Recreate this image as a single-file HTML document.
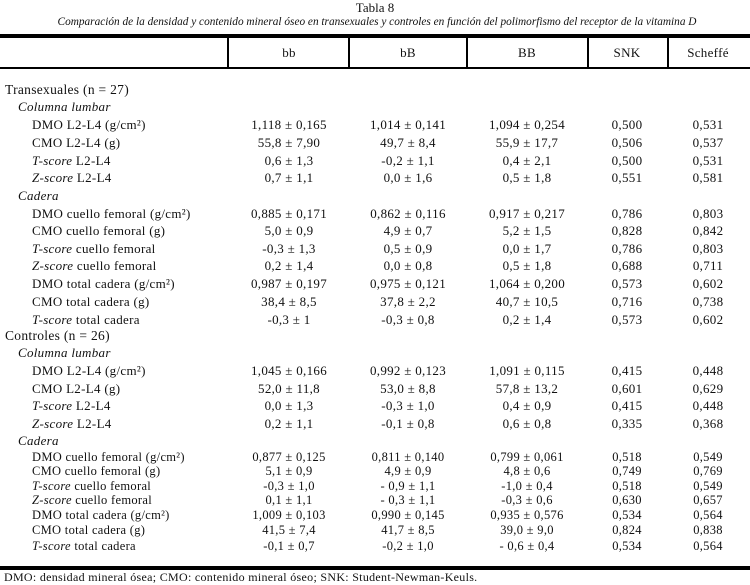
<!DOCTYPE html>
<html><head><meta charset="utf-8"><style>
body{margin:0;width:750px;height:584px;background:#fff;position:relative;font-family:"Liberation Serif",serif;color:#111;overflow:hidden}
.t{position:absolute;white-space:nowrap;font-size:13px;line-height:16px;letter-spacing:0.3px}
.c{transform:translateX(-50%)}
.ln{position:absolute;background:#000}
</style></head><body>
<div class="t c" style="left:375px;top:0px;font-size:13px;letter-spacing:0">Tabla 8</div>
<div class="t c" style="left:377px;top:14px;font-style:italic;font-size:11.3px;letter-spacing:0">Comparación de la densidad y contenido mineral óseo en transexuales y controles en función del polimorfismo del receptor de la vitamina D</div>
<div class="ln" style="left:0;top:34px;width:750px;height:4px"></div>
<div class="ln" style="left:0;top:67px;width:750px;height:2px"></div>
<div class="ln" style="left:0;top:566px;width:750px;height:4px"></div>
<div id="vl"></div>
<div class="t" style="left:4px;top:569px;font-size:12px">DMO: densidad mineral ósea; CMO: contenido mineral óseo; SNK: Student-Newman-Keuls.</div>
<div id="rows"></div>
<script>
var vlines=[228,349,467,588,668];
var headers=["bb","bB","BB","SNK","Scheffé"];
var centers=[289,408,527,627,708];
var rows=[
[90,0,"Transexuales (n = 27)"],
[107,1,"Columna lumbar"],
[125,2,"DMO L2-L4 (g/cm²)","1,118 ± 0,165","1,014 ± 0,141","1,094 ± 0,254","0,500","0,531"],
[143,2,"CMO L2-L4 (g)","55,8 ± 7,90","49,7 ± 8,4","55,9 ± 17,7","0,506","0,537"],
[161,2,"<i>T-score</i> L2-L4","0,6 ± 1,3","-0,2 ± 1,1","0,4 ± 2,1","0,500","0,531"],
[178,2,"<i>Z-score</i> L2-L4","0,7 ± 1,1","0,0 ± 1,6","0,5 ± 1,8","0,551","0,581"],
[196,1,"Cadera"],
[214,2,"DMO cuello femoral (g/cm²)","0,885 ± 0,171","0,862 ± 0,116","0,917 ± 0,217","0,786","0,803"],
[231,2,"CMO cuello femoral (g)","5,0 ± 0,9","4,9 ± 0,7","5,2 ± 1,5","0,828","0,842"],
[249,2,"<i>T-score</i> cuello femoral","-0,3 ± 1,3","0,5 ± 0,9","0,0 ± 1,7","0,786","0,803"],
[266,2,"<i>Z-score</i> cuello femoral","0,2 ± 1,4","0,0 ± 0,8","0,5 ± 1,8","0,688","0,711"],
[284,2,"DMO total cadera (g/cm²)","0,987 ± 0,197","0,975 ± 0,121","1,064 ± 0,200","0,573","0,602"],
[302,2,"CMO total cadera (g)","38,4 ± 8,5","37,8 ± 2,2","40,7 ± 10,5","0,716","0,738"],
[320,2,"<i>T-score</i> total cadera","-0,3 ± 1","-0,3 ± 0,8","0,2 ± 1,4","0,573","0,602"],
[336,0,"Controles (n = 26)"],
[353,1,"Columna lumbar"],
[371,2,"DMO L2-L4 (g/cm²)","1,045 ± 0,166","0,992 ± 0,123","1,091 ± 0,115","0,415","0,448"],
[389,2,"CMO L2-L4 (g)","52,0 ± 11,8","53,0 ± 8,8","57,8 ± 13,2","0,601","0,629"],
[406,2,"<i>T-score</i> L2-L4","0,0 ± 1,3","-0,3 ± 1,0","0,4 ± 0,9","0,415","0,448"],
[424,2,"<i>Z-score</i> L2-L4","0,2 ± 1,1","-0,1 ± 0,8","0,6 ± 0,8","0,335","0,368"],
[441,1,"Cadera"],
[457,3,"DMO cuello femoral (g/cm²)","0,877 ± 0,125","0,811 ± 0,140","0,799 ± 0,061","0,518","0,549"],
[471,3,"CMO cuello femoral (g)","5,1 ± 0,9","4,9 ± 0,9","4,8 ± 0,6","0,749","0,769"],
[486,3,"<i>T-score</i> cuello femoral","-0,3 ± 1,0","- 0,9 ± 1,1","-1,0 ± 0,4","0,518","0,549"],
[500,3,"<i>Z-score</i> cuello femoral","0,1 ± 1,1","- 0,3 ± 1,1","-0,3 ± 0,6","0,630","0,657"],
[515,3,"DMO total cadera (g/cm²)","1,009 ± 0,103","0,990 ± 0,145","0,935 ± 0,576","0,534","0,564"],
[530,3,"CMO total cadera (g)","41,5 ± 7,4","41,7 ± 8,5","39,0 ± 9,0","0,824","0,838"],
[546,3,"<i>T-score</i> total cadera","-0,1 ± 0,7","-0,2 ± 1,0","- 0,6 ± 0,4","0,534","0,564"]
];
var vl=document.getElementById('vl');
for(var i=0;i<vlines.length;i++){
 var d=document.createElement('div');d.className='ln';
 
 
 d.style.cssText='left:'+(vlines[i]-1)+'px;top:38px;width:2px;height:29px';vl.appendChild(d);
 var h=document.createElement('div');h.className='t c';
 
 
 h.style.cssText='left:'+centers[i]+'px;top:45px';h.textContent=headers[i];vl.appendChild(h);
}
var R=document.getElementById('rows');
var ind=[5,18,32,32];
for(var r=0;r<rows.length;r++){
 var row=rows[r],lv=row[1];
 var l=document.createElement('div');l.className='t';
 
 
 var st='left:'+ind[lv]+'px;top:'+(row[0]-8)+'px;';
 if(lv==0)st+='font-size:13.5px;';
 if(lv==1)st+='font-style:italic;';
 if(lv==3)st+='font-size:12.5px;';
 l.style.cssText=st;l.innerHTML=row[2];R.appendChild(l);
 for(var k=3;k<row.length;k++){
  var c=document.createElement('div');c.className='t c';
  
  
  c.style.cssText='left:'+centers[k-3]+'px;top:'+(row[0]-8)+'px;'+(lv==3?'font-size:12.5px;':'');
  c.textContent=row[k];R.appendChild(c);
 }
}
</script>
</body></html>
